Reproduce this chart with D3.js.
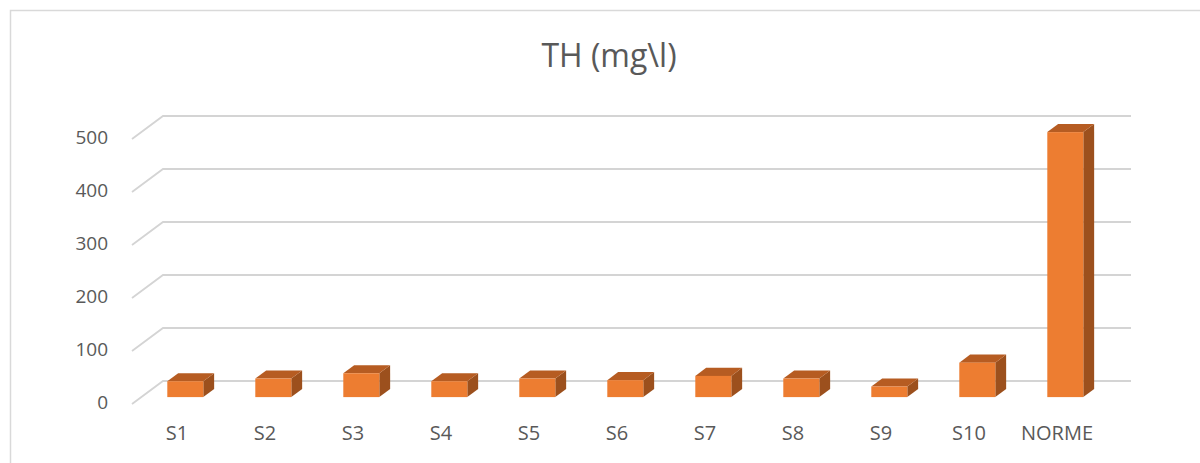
<!DOCTYPE html>
<html>
<head>
<meta charset="utf-8">
<script src="https://cdn.jsdelivr.net/npm/d3@7"></script>
<style>
  body { margin: 0; background: #fff; }
  text { font-family: "Open Sans", sans-serif; fill: #595959; }
</style>
</head>
<body>
<svg width="1200" height="463"></svg>
<script>
// data
var categories = ["S1", "S2", "S3", "S4", "S5", "S6", "S7", "S8", "S9", "S10", "NORME"];
var values = [30, 35, 45, 30, 35, 32, 40, 35, 20, 65, 500];
var yTicks = [0, 100, 200, 300, 400, 500];

var svg = d3.select("svg");

// chart frame (only left + top visible in the crop)
svg.append("path")
    .attr("d", "M10.5,463 L10.5,10.5 L1200,10.5")
    .attr("fill", "none")
    .attr("stroke", "#d9d9d9")
    .attr("stroke-width", 1.5);

svg.append("text")
    .attr("x", 609).attr("y", 58)
    .attr("text-anchor", "middle")
    .attr("dominant-baseline", "middle")
    .style("font-size", "32px")
    .text("TH (mg\\l)");

// front plane scales, depth is a shear vector
var x = d3.scaleBand().domain(categories).range([132, 1100]);
var y = d3.scaleLinear().domain([0, 500]).range([404, 139]);
var depth = [31, -23];
var f0 = 0.3, f1 = 0.65;   // bar front / back depth fraction
var barW = 36;

var grid = svg.append("g");
grid.selectAll("path")
  .data(yTicks)
  .enter().append("path")
    .attr("d", function(t) {
      var y0 = y(t);
      return "M" + x.range()[0] + "," + y0 +
        " L" + (x.range()[0] + depth[0]) + "," + (y0 + depth[1]) +
        " L" + (x.range()[1] + depth[0]) + "," + (y0 + depth[1]);
    })
    .attr("fill", "none")
    .attr("stroke", "#d4d4d4")
    .attr("stroke-width", 1.8);

svg.append("g").selectAll("text")
  .data(yTicks)
  .enter().append("text")
    .attr("x", 108)
    .attr("y", function(t) { return y(t); })
    .attr("text-anchor", "end")
    .attr("dominant-baseline", "middle")
    .style("font-size", "19px")
    .text(function(t) { return t; });

svg.append("g").selectAll("text")
  .data(categories)
  .enter().append("text")
    .attr("x", function(c) { return x(c) + x.bandwidth() / 2 + 1; })
    .attr("y", 435)
    .attr("text-anchor", "middle")
    .attr("dominant-baseline", "middle")
    .style("font-size", "20px")
    .text(function(c) { return c; });

var ddx = (f1 - f0) * depth[0], ddy = (f1 - f0) * depth[1];

var bars = svg.append("g").selectAll("g")
  .data(categories.map(function(c, i) { return {c: c, v: values[i]}; }))
  .enter().append("g");

bars.each(function(d) {
  var g = d3.select(this);
  var x0 = x(d.c) + (x.bandwidth() - barW) / 2 + f0 * depth[0];
  var yb = y(0) + f0 * depth[1];
  var yt = y(d.v) + f0 * depth[1];
  // side
  g.append("path")
    .attr("d", "M" + (x0 + barW) + "," + yb + " L" + (x0 + barW + ddx) + "," + (yb + ddy) +
      " L" + (x0 + barW + ddx) + "," + (yt + ddy) + " L" + (x0 + barW) + "," + yt + "Z")
    .attr("fill", "#9c501d");
  // top
  g.append("path")
    .attr("d", "M" + x0 + "," + yt + " L" + (x0 + barW) + "," + yt +
      " L" + (x0 + barW + ddx) + "," + (yt + ddy) + " L" + (x0 + ddx) + "," + (yt + ddy) + "Z")
    .attr("fill", "#b65c22");
  // front
  g.append("rect")
    .attr("x", x0).attr("y", yt)
    .attr("width", barW).attr("height", yb - yt)
    .attr("fill", "#ed7d31");
});
</script>
</body>
</html>
